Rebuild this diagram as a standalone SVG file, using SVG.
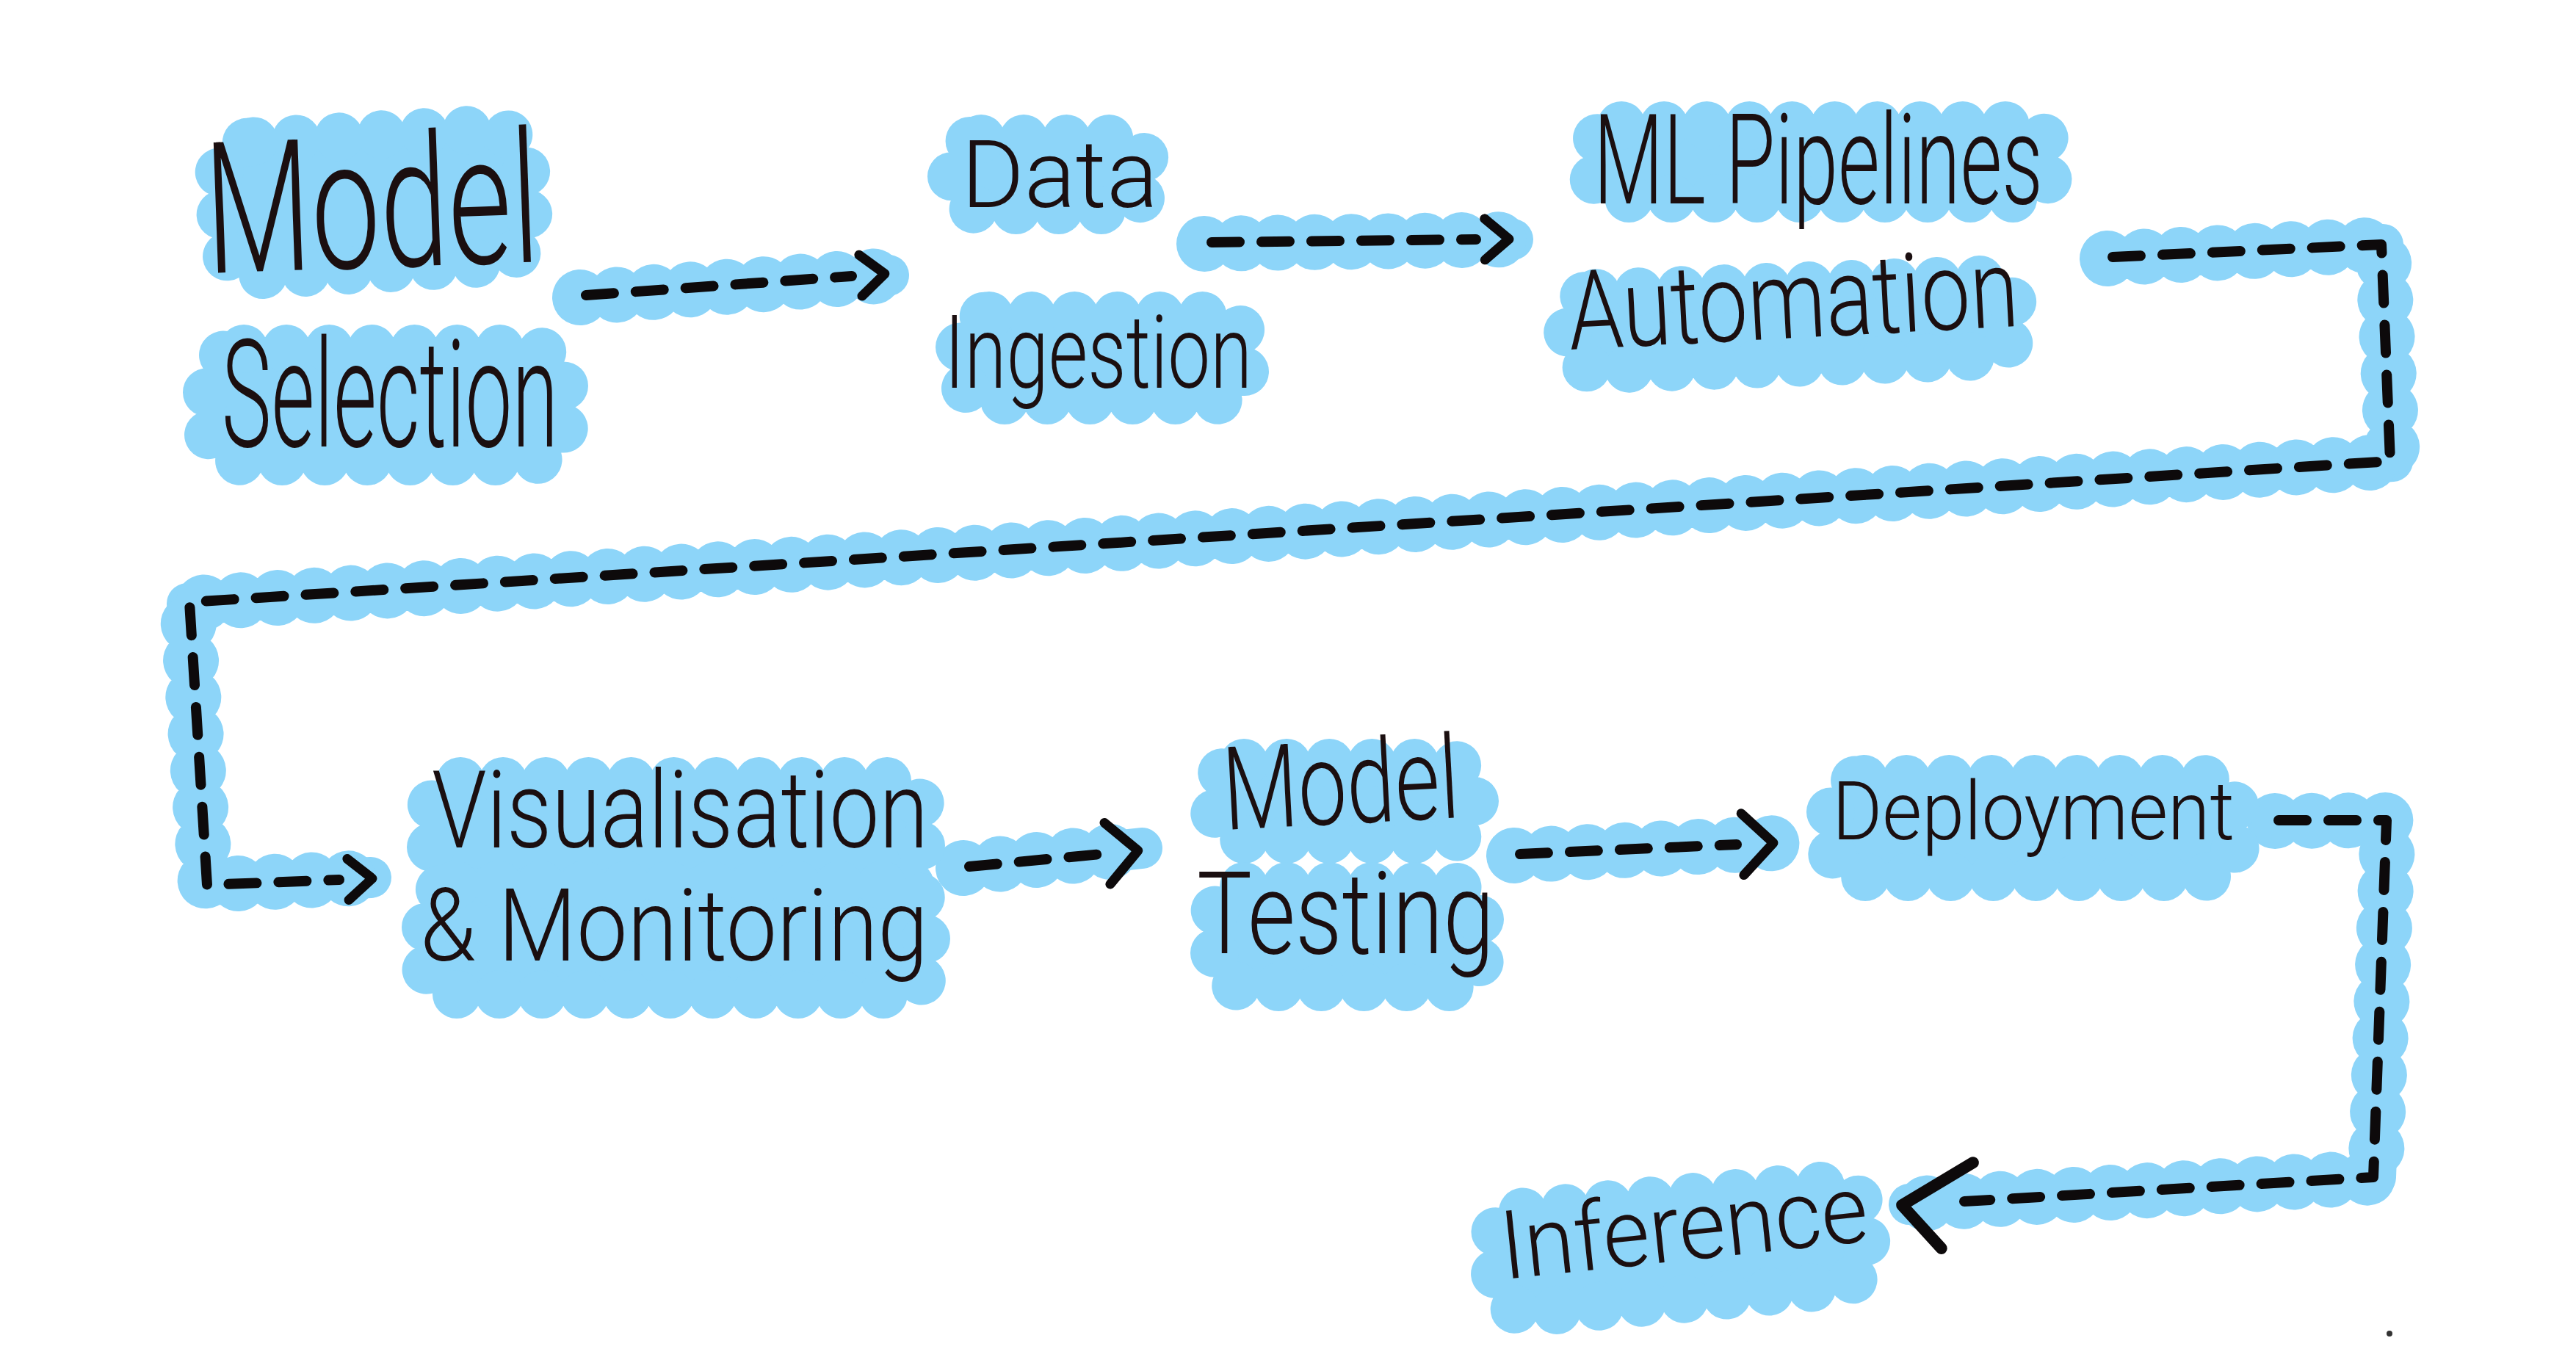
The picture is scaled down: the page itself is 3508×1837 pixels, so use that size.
<svg xmlns="http://www.w3.org/2000/svg" width="3508" height="1837" viewBox="0 0 3508 1837">
<defs>
<style>
.blob{fill:#8dd5f9;stroke:#8dd5f9;stroke-width:66;stroke-linecap:round;stroke-linejoin:round;stroke-dasharray:0.1 58}
.hlb{fill:none;stroke:#8dd5f9;stroke-width:56;stroke-linejoin:round;stroke-linecap:round}
.hld{fill:none;stroke:#8dd5f9;stroke-width:76;stroke-linecap:round;stroke-linejoin:round;stroke-dasharray:0.1 50}
.dash{fill:none;stroke:#0d0a0b;stroke-width:14;stroke-linecap:round;stroke-linejoin:round;stroke-dasharray:38 30}
.lbl{font-family:Roboto,"Open Sans",Lato,"Liberation Sans",sans-serif;font-weight:300;fill:#1b0f10}
</style>
<marker id="chev" markerUnits="userSpaceOnUse" viewBox="0 -60 100 120" markerWidth="100" markerHeight="120" refX="0" refY="0" orient="auto" overflow="visible">
<path d="M12,-28 L45,0 L12,28" fill="none" stroke="#0d0a0b" stroke-width="13" stroke-linecap="round" stroke-linejoin="round"/>
</marker>
<marker id="chevT" markerUnits="userSpaceOnUse" viewBox="0 -60 100 120" markerWidth="100" markerHeight="120" refX="0" refY="0" orient="auto" overflow="visible">
<path d="M8,-42 L50,0 L8,42" fill="none" stroke="#0d0a0b" stroke-width="13" stroke-linecap="round" stroke-linejoin="round"/>
</marker>
<marker id="chevL" markerUnits="userSpaceOnUse" viewBox="0 -80 120 160" markerWidth="120" markerHeight="160" refX="0" refY="0" orient="auto" overflow="visible">
<path d="M35,-62 L85,0 L-15,52" fill="none" stroke="#0d0a0b" stroke-width="16" stroke-linecap="round" stroke-linejoin="round"/>
</marker>
</defs>
<rect width="3508" height="1837" fill="#ffffff"/>

<g id="connectors">
<g id="conn-highlights">
<path class="hlb" d="M790,405 L1210,375"/><path class="hld" d="M790,405 L1210,375"/>
<path class="hlb" d="M1640,332 L2060,326"/><path class="hld" d="M1640,332 L2060,326"/>
<path class="hlb" d="M2870,352 L3245,333 L3258,628 L255,822 L280,1205 L505,1195"/><path class="hld" d="M2870,352 L3245,333 L3258,628 L255,822 L280,1205 L505,1195"/>
<path class="hlb" d="M1312,1182 L1555,1155"/><path class="hld" d="M1312,1182 L1555,1155"/>
<path class="hlb" d="M2062,1165 L2420,1148"/><path class="hld" d="M2062,1165 L2420,1148"/>
<path class="hlb" d="M3098,1118 L3252,1117 L3235,1603 L2600,1640"/><path class="hld" d="M3098,1118 L3252,1117 L3235,1603 L2600,1640"/>
</g>
<path id="c1" class="dash" d="M798,402 L1160,376" marker-end="url(#chev)"/>
<path id="c2" class="dash" d="M1650,330 L2010,326" marker-end="url(#chev)"/>
<path id="c3" class="dash" d="M2877,350 L3243,333 L3255,628 L258,820 L282,1205 L462,1198" marker-end="url(#chev)"/>
<path id="c4" class="dash" d="M1320,1180 L1500,1163" marker-end="url(#chevT)"/>
<path id="c5" class="dash" d="M2070,1163 L2365,1150" marker-end="url(#chevT)"/>
<path id="c6" class="dash" d="M3103,1117 L3250,1117 L3232,1603 L2675,1636" marker-end="url(#chevL)"/>
</g>

<g id="node-model-selection">
<rect class="blob" x="300" y="184" width="418" height="182" rx="50" transform="rotate(-3 509 275)"/>
<rect class="blob" x="282" y="475" width="486" height="153" rx="50"/>
<text class="lbl" x="282" y="372" font-size="250" textLength="455" lengthAdjust="spacingAndGlyphs" transform="rotate(-2 282 372)">Model</text>
<text class="lbl" x="302" y="608" font-size="205" textLength="458" lengthAdjust="spacingAndGlyphs">Selection</text>
</g>

<g id="node-data-ingestion">
<rect class="blob" x="1296" y="189" width="265" height="97" rx="40"/>
<rect class="blob" x="1307" y="430" width="388" height="115" rx="40"/>
<text class="lbl" x="1309" y="282" font-size="128" textLength="268" lengthAdjust="spacingAndGlyphs">Data</text>
<text class="lbl" x="1286" y="528" font-size="140" textLength="419" lengthAdjust="spacingAndGlyphs">Ingestion</text>
</g>

<g id="node-ml-pipelines">
<rect class="blob" x="2168" y="171" width="623" height="99" rx="40"/>
<rect class="blob" x="2135" y="390" width="607" height="104" rx="40" transform="rotate(-2 2438 442)"/>
<text class="lbl" x="2170" y="277" font-size="170" textLength="612" lengthAdjust="spacingAndGlyphs">ML Pipelines</text>
<text class="lbl" x="2138" y="476" font-size="150" textLength="614" lengthAdjust="spacingAndGlyphs" transform="rotate(-3 2138 476)">Automation</text>
</g>

<g id="node-visualisation">
<rect class="blob" x="587" y="1064" width="667" height="150" rx="40"/>
<rect class="blob" x="580" y="1205" width="681" height="149" rx="40"/>
<text class="lbl" x="588" y="1154" font-size="146" textLength="676" lengthAdjust="spacingAndGlyphs">Visualisation</text>
<text class="lbl" x="572" y="1308" font-size="138" textLength="692" lengthAdjust="spacingAndGlyphs">&amp; Monitoring</text>
</g>

<g id="node-model-testing">
<rect class="blob" x="1654" y="1039" width="354" height="104" rx="40"/>
<rect class="blob" x="1654" y="1207" width="361" height="137" rx="40"/>
<text class="lbl" x="1668" y="1130" font-size="158" textLength="322" lengthAdjust="spacingAndGlyphs" transform="rotate(-3 1668 1130)">Model</text>
<text class="lbl" x="1630" y="1298" font-size="155" textLength="405" lengthAdjust="spacingAndGlyphs">Testing</text>
</g>

<g id="node-deployment">
<rect class="blob" x="2493" y="1061" width="551" height="133" rx="45"/>
<text class="lbl" x="2495" y="1143" font-size="112" textLength="548" lengthAdjust="spacingAndGlyphs">Deployment</text>
</g>

<g id="node-inference">
<rect class="blob" x="2034" y="1632" width="507" height="137" rx="45" transform="rotate(-5 2287 1700)"/>
<text class="lbl" x="2048" y="1742" font-size="130" textLength="502" lengthAdjust="spacingAndGlyphs" transform="rotate(-6 2048 1742)">Inference</text>
</g>

<circle cx="3254" cy="1816" r="4" fill="#333333"/>
</svg>
